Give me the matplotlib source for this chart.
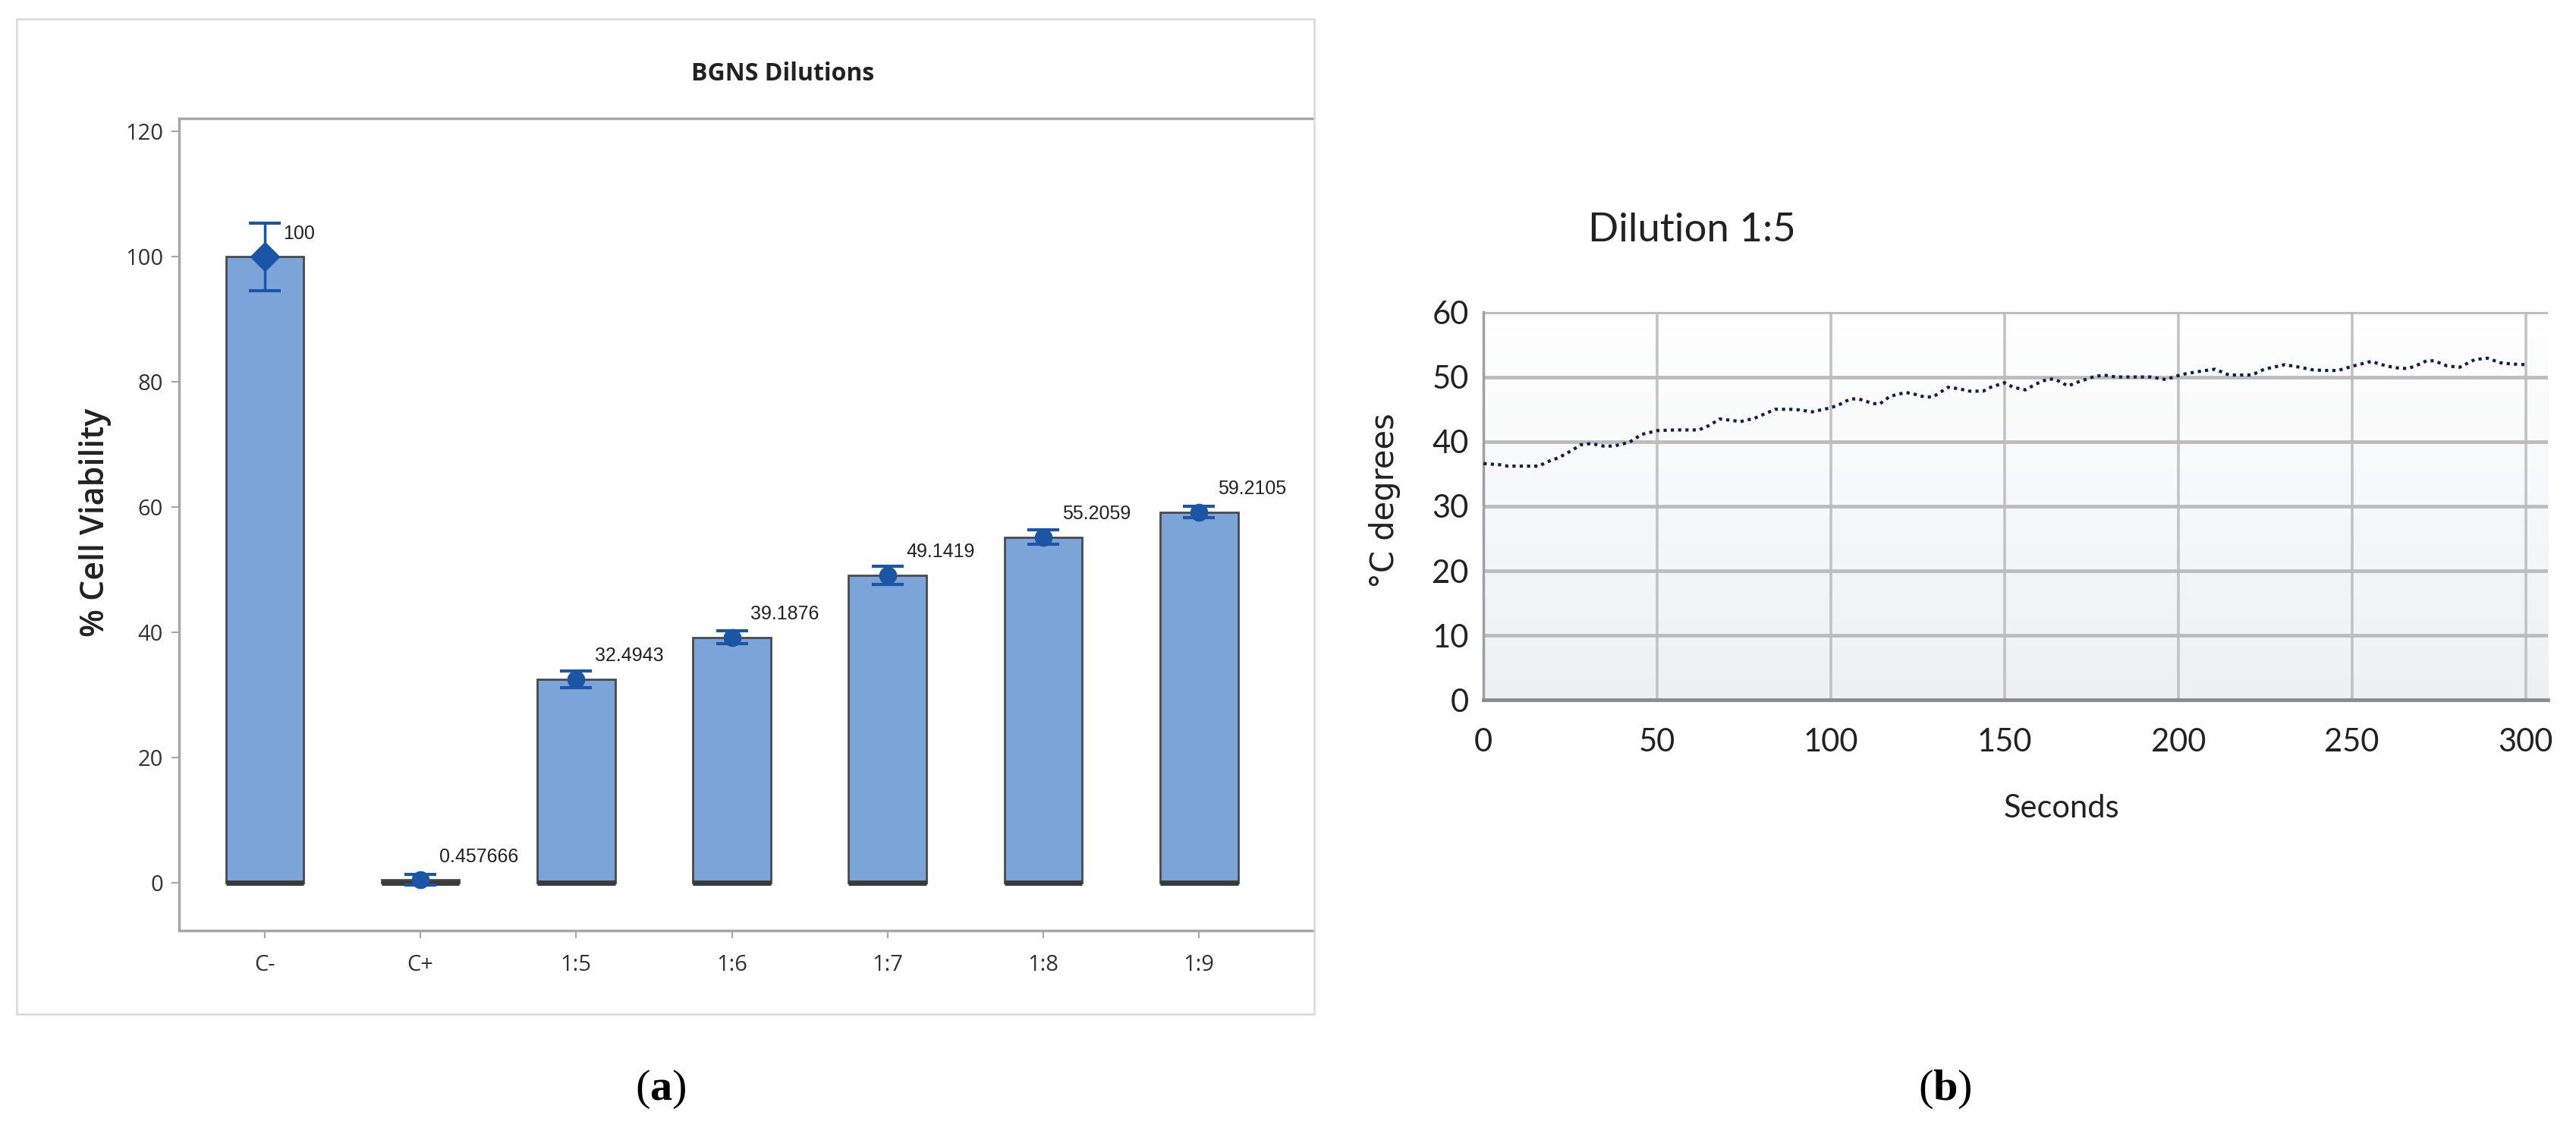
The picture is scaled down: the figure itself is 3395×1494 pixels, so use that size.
import numpy as np
import matplotlib
matplotlib.use("Agg")
import matplotlib.pyplot as plt
from matplotlib.colors import LinearSegmentedColormap
from matplotlib.patches import Rectangle

plt.rcParams['mathtext.fontset'] = 'custom'
plt.rcParams['mathtext.rm'] = 'Liberation Serif'
plt.rcParams['mathtext.bf'] = 'Liberation Serif:bold'

# (a) cell viability per dilution
groups = ["C-", "C+", "1:5", "1:6", "1:7", "1:8", "1:9"]
viability = [100, 0.457666, 32.4943, 39.1876, 49.1419, 55.2059, 59.2105]
viability_err = [5.4, 0.8, 1.3, 1.05, 1.45, 1.2, 0.9]
value_labels = ["100", "0.457666", "32.4943", "39.1876", "49.1419", "55.2059", "59.2105"]

# (b) temperature of dilution 1:5 over time
seconds = [0, 5, 7, 12, 16, 18, 21.6, 25, 28, 31, 34.6, 37.5, 42, 45.5, 50, 55, 62,
           65, 68, 71, 74, 78, 81, 84, 88, 91, 94.6, 99.7, 102, 105.6, 108, 112,
           114, 117, 121.5, 123.6, 127, 129.4, 133.7, 136.6, 140, 143.8, 146, 150,
           152.5, 156, 159, 162.6, 164.7, 168.3, 170.5, 175.5, 178.4, 182, 187, 192,
           196.4, 199.3, 202.2, 206.6, 210.6, 214.6, 218, 221.2, 224.8, 230.7, 235,
           238.7, 242, 246, 250.4, 255.5, 259.9, 263, 265.7, 267.9, 271.5, 273.7,
           277.4, 281, 285.4, 289, 292.7, 296, 300]
temp_c = [36.6, 36.4, 36.2, 36.2, 36.2, 36.8, 37.5, 38.5, 39.5, 39.7, 39.3, 39.3, 39.9,
          41.1, 41.7, 41.8, 41.8, 42.5, 43.5, 43.3, 43.1, 43.6, 44.3, 45.0, 45.0, 44.9,
          44.6, 45.2, 45.6, 46.6, 46.6, 45.9, 45.8, 47.0, 47.6, 47.4, 46.9, 46.9, 48.4,
          48.2, 47.8, 47.8, 48.4, 49.1, 48.4, 48.0, 48.9, 49.7, 49.6, 48.6, 49.1, 50.0,
          50.3, 50.0, 50.0, 50.0, 49.6, 50.1, 50.5, 50.9, 51.2, 50.3, 50.3, 50.3, 51.2,
          51.9, 51.5, 51.1, 51.0, 51.0, 51.7, 52.4, 51.7, 51.4, 51.3, 51.6, 52.5, 52.5,
          51.7, 51.5, 52.7, 52.9, 52.2, 52.0, 51.9]

bar_color = '#7ba4d8'
err_color = '#1a56a5'
spine_gray = '#a6a6a6'

fig = plt.figure(figsize=(33.95, 14.94), dpi=100)

# light frame around panel (a)
fig.patches.append(Rectangle((0.0064, 0.106), 0.5038, 0.877, transform=fig.transFigure,
                             fill=False, edgecolor='#dcdcdc', linewidth=2))

# ---------------- panel (a) ----------------
ax1 = fig.add_axes([0.0695, 0.1797, 0.4407, 0.716])
x = np.arange(len(groups))
ax1.bar(x, viability, width=0.5, color=bar_color, edgecolor='#4a4a4a', linewidth=2, zorder=2)
ax1.hlines(np.zeros(len(x)), x - 0.25, x + 0.25, colors='#3a3a3a', linewidth=5, zorder=3)
for i in range(len(groups)):
    marker = 'D' if i == 0 else 'o'
    ms = 19 if i == 0 else 16
    ax1.errorbar(x[i], viability[i], yerr=viability_err[i], fmt=marker, color=err_color,
                 ms=ms, capsize=15, capthick=3, elinewidth=2.5, zorder=4)
    ax1.text(x[i] + 0.12, viability[i] + 3.7, value_labels[i], fontsize=18,
             family='Liberation Sans', color='#222222', ha='left', va='center', zorder=5)

ax1.set_xlim(-0.55, 6.74)
ax1.set_ylim(-7.6, 122.1)
ax1.set_yticks([0, 20, 40, 60, 80, 100, 120])
ax1.set_xticks(x)
ax1.set_xticklabels(groups)
for s in ['left', 'bottom', 'top']:
    ax1.spines[s].set_color(spine_gray)
    ax1.spines[s].set_linewidth(2.5)
ax1.spines['right'].set_visible(False)
ax1.tick_params(axis='y', length=7, width=1.5, color=spine_gray, pad=8,
                labelsize=21, labelcolor='#333333')
ax1.tick_params(axis='x', length=7, width=1.5, color=spine_gray, pad=16,
                labelsize=21, labelcolor='#333333')
for lab in ax1.get_xticklabels() + ax1.get_yticklabels():
    lab.set_family('Open Sans')

fig.text(0.304, 0.935, "BGNS Dilutions", fontsize=23, fontweight='bold',
         family='Open Sans', ha='center', va='center', color='#222222')
fig.text(58 / 1568, 1 - 318 / 690, "% Cell Viability", fontsize=31, fontweight='semibold',
         family='Open Sans', rotation=90, ha='center', va='center', color='#222222')

# ---------------- panel (b) ----------------
ax2 = fig.add_axes([0.5759, 0.3826, 0.4133, 0.342])
grad = LinearSegmentedColormap.from_list('bg', ['#eef0f2', '#ffffff'])
ax2.imshow(np.linspace(0, 1, 256).reshape(-1, 1), extent=[0, 306.5, 0, 60], origin='lower',
           aspect='auto', cmap=grad, zorder=0)
ax2.plot(seconds, temp_c, color='#141e4a', linewidth=3.0, linestyle=(0, (1, 1.3)), zorder=3)
ax2.set_xlim(0, 306.5)
ax2.set_ylim(0, 60)
ax2.set_xticks([0, 50, 100, 150, 200, 250, 300])
ax2.set_yticks([0, 10, 20, 30, 40, 50, 60])
ax2.grid(True, axis='y', color='#bcbcbc', linewidth=3.4, zorder=1)
ax2.grid(True, axis='x', color='#c2c2c2', linewidth=2.6, zorder=1)
ax2.set_axisbelow(True)
ax2.spines['top'].set_visible(False)
ax2.spines['right'].set_visible(False)
ax2.spines['left'].set_color('#a0a0a0')
ax2.spines['left'].set_linewidth(2.5)
ax2.spines['bottom'].set_color('#8c8c8c')
ax2.spines['bottom'].set_linewidth(3.5)
ax2.tick_params(axis='both', length=0, labelsize=30, labelcolor='#222222')
ax2.tick_params(axis='y', pad=14)
ax2.tick_params(axis='x', pad=26)
for lab in ax2.get_xticklabels() + ax2.get_yticklabels():
    lab.set_family('Lato')

fig.text(1030 / 1568, 1 - 140 / 690, "Dilution 1:5", fontsize=38, family='Lato',
         ha='center', va='center', color='#222222')
fig.text(1255 / 1568, 1 - 492 / 690, "Seconds", fontsize=30, family='Lato',
         ha='center', va='center', color='#222222')
fig.text(843 / 1568, 1 - 304.5 / 690, "°C degrees", fontsize=30, family='DejaVu Sans',
         rotation=90, ha='center', va='center', color='#222222')

# sub-figure labels
fig.text(402 / 1568, 1 - 663 / 690, r"($\mathbf{a}$)", fontsize=42, family='Liberation Serif',
         ha='center', va='center')
fig.text(1184 / 1568, 1 - 663 / 690, r"($\mathbf{b}$)", fontsize=42, family='Liberation Serif',
         ha='center', va='center')

fig.savefig("out.png", dpi=100)
